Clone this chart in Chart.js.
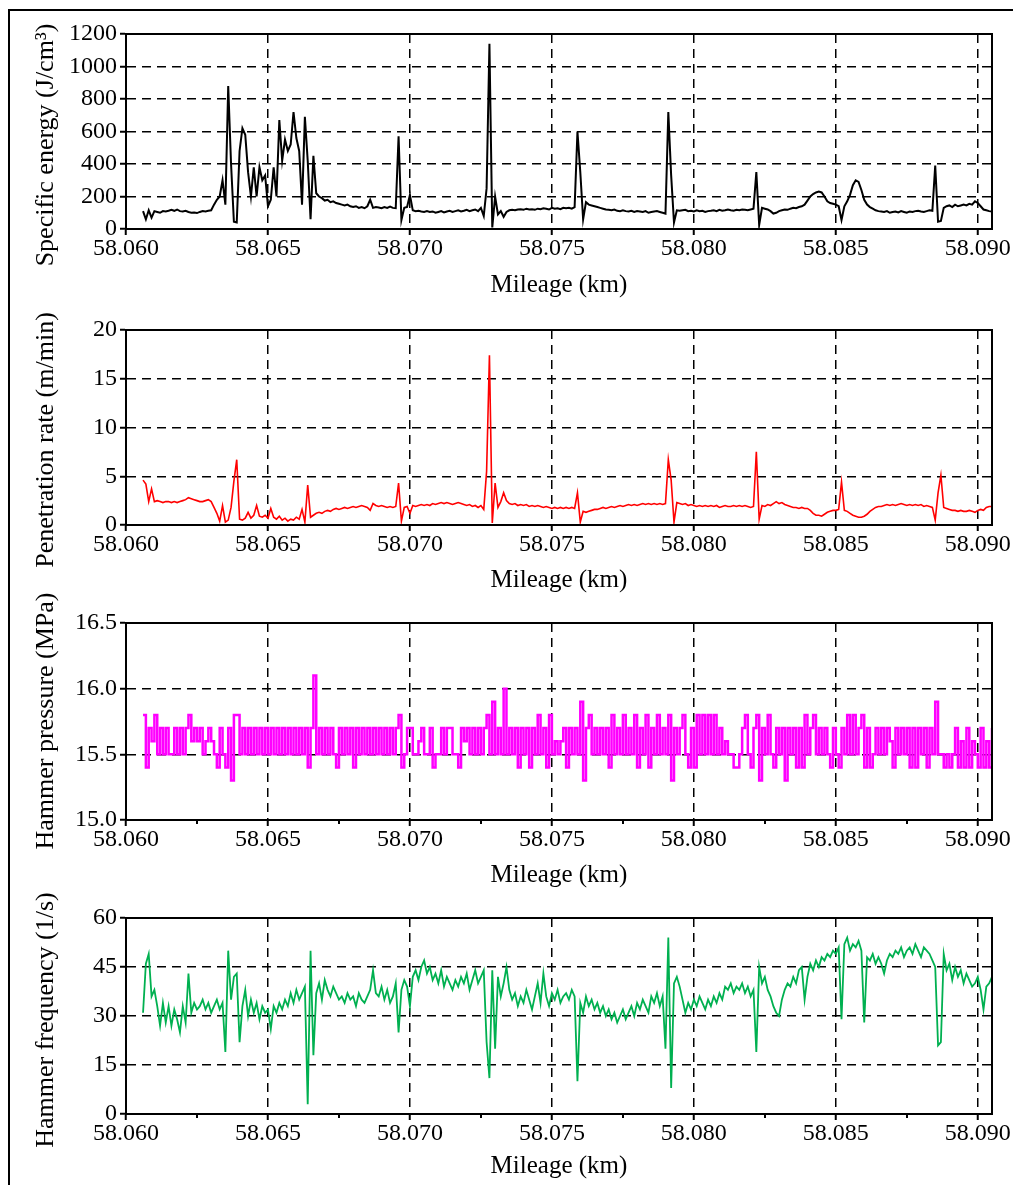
<!DOCTYPE html>
<html>
<head>
<meta charset="utf-8">
<script src="https://cdn.jsdelivr.net/npm/chart.js@4.4.1/dist/chart.umd.min.js"></script>
<style>
  html, body { margin: 0; padding: 0; background: #fff; overflow: hidden; }
  body { width: 1013px; height: 1185px; position: relative; }
  #frame { position: absolute; left: 8px; top: 9px; width: 1200px; height: 1400px; border: 2px solid #000; box-sizing: border-box; }
  canvas { position: absolute; left: 0; }
</style>
</head>
<body>
<div id="frame"></div>
<canvas id="c1"></canvas>
<canvas id="c2"></canvas>
<canvas id="c3"></canvas>
<canvas id="c4"></canvas>
<script>
// sample positions (km), shared by the four records
const mileage = [
  58.0606, 58.0607, 58.0608, 58.0609, 58.0610, 58.0611, 58.0612, 58.0613, 58.0614, 58.0615,
  58.0616, 58.0617, 58.0618, 58.0619, 58.0620, 58.0621, 58.0622, 58.0623, 58.0624, 58.0625,
  58.0626, 58.0627, 58.0628, 58.0629, 58.0630, 58.0631, 58.0632, 58.0633, 58.0634, 58.0635,
  58.0636, 58.0637, 58.0638, 58.0639, 58.0640, 58.0641, 58.0642, 58.0643, 58.0644, 58.0645,
  58.0646, 58.0647, 58.0648, 58.0649, 58.0650, 58.0651, 58.0652, 58.0653, 58.0654, 58.0655,
  58.0656, 58.0657, 58.0658, 58.0659, 58.0660, 58.0661, 58.0662, 58.0663, 58.0664, 58.0665,
  58.0666, 58.0667, 58.0668, 58.0669, 58.0670, 58.0671, 58.0672, 58.0673, 58.0674, 58.0675,
  58.0676, 58.0677, 58.0678, 58.0679, 58.0680, 58.0681, 58.0682, 58.0683, 58.0684, 58.0685,
  58.0686, 58.0687, 58.0688, 58.0689, 58.0690, 58.0691, 58.0692, 58.0693, 58.0694, 58.0695,
  58.0696, 58.0697, 58.0698, 58.0699, 58.0700, 58.0701, 58.0702, 58.0703, 58.0704, 58.0705,
  58.0706, 58.0707, 58.0708, 58.0709, 58.0710, 58.0711, 58.0712, 58.0713, 58.0714, 58.0715,
  58.0716, 58.0717, 58.0718, 58.0719, 58.0720, 58.0721, 58.0722, 58.0723, 58.0724, 58.0725,
  58.0726, 58.0727, 58.0728, 58.0729, 58.0730, 58.0731, 58.0732, 58.0733, 58.0734, 58.0735,
  58.0736, 58.0737, 58.0738, 58.0739, 58.0740, 58.0741, 58.0742, 58.0743, 58.0744, 58.0745,
  58.0746, 58.0747, 58.0748, 58.0749, 58.0750, 58.0751, 58.0752, 58.0753, 58.0754, 58.0755,
  58.0756, 58.0757, 58.0758, 58.0759, 58.0760, 58.0761, 58.0762, 58.0763, 58.0764, 58.0765,
  58.0766, 58.0767, 58.0768, 58.0769, 58.0770, 58.0771, 58.0772, 58.0773, 58.0774, 58.0775,
  58.0776, 58.0777, 58.0778, 58.0779, 58.0780, 58.0781, 58.0782, 58.0783, 58.0784, 58.0785,
  58.0786, 58.0787, 58.0788, 58.0789, 58.0790, 58.0791, 58.0792, 58.0793, 58.0794, 58.0795,
  58.0796, 58.0797, 58.0798, 58.0799, 58.0800, 58.0801, 58.0802, 58.0803, 58.0804, 58.0805,
  58.0806, 58.0807, 58.0808, 58.0809, 58.0810, 58.0811, 58.0812, 58.0813, 58.0814, 58.0815,
  58.0816, 58.0817, 58.0818, 58.0819, 58.0820, 58.0821, 58.0822, 58.0823, 58.0824, 58.0825,
  58.0826, 58.0827, 58.0828, 58.0829, 58.0830, 58.0831, 58.0832, 58.0833, 58.0834, 58.0835,
  58.0836, 58.0837, 58.0838, 58.0839, 58.0840, 58.0841, 58.0842, 58.0843, 58.0844, 58.0845,
  58.0846, 58.0847, 58.0848, 58.0849, 58.0850, 58.0851, 58.0852, 58.0853, 58.0854, 58.0855,
  58.0856, 58.0857, 58.0858, 58.0859, 58.0860, 58.0861, 58.0862, 58.0863, 58.0864, 58.0865,
  58.0866, 58.0867, 58.0868, 58.0869, 58.0870, 58.0871, 58.0872, 58.0873, 58.0874, 58.0875,
  58.0876, 58.0877, 58.0878, 58.0879, 58.0880, 58.0881, 58.0882, 58.0883, 58.0884, 58.0885,
  58.0886, 58.0887, 58.0888, 58.0889, 58.0890, 58.0891, 58.0892, 58.0893, 58.0894, 58.0895,
  58.0896, 58.0897, 58.0898, 58.0899, 58.0900, 58.0901, 58.0902, 58.0903, 58.0904, 58.0905
];

// specific energy (J/cm3)
const energy = [
  110, 60, 115, 70, 110, 105, 100, 110, 108, 112,
  118, 112, 120, 110, 108, 112, 105, 100, 102, 98,
  105, 110, 108, 112, 115, 150, 180, 200, 300, 150,
  880, 400, 45, 40, 480, 620, 580, 350, 200, 380,
  200, 380, 300, 330, 140, 180, 380, 200, 670, 420,
  550, 480, 520, 720, 560, 480, 150, 690, 420, 60,
  450, 220, 200, 190, 175, 180, 165, 170, 160, 155,
  150, 145, 150, 140, 135, 140, 130, 135, 128, 140,
  180, 130, 135, 132, 128, 135, 130, 138, 130, 128,
  570, 55, 130, 135, 210, 115, 110, 112, 108, 105,
  110, 105, 108, 100, 105, 110, 102, 108, 112, 105,
  110, 115, 108, 112, 118, 110, 115, 120, 110, 130,
  80, 250, 1140, 10, 200, 90, 110, 75, 105, 115,
  118, 115, 120, 122, 118, 125, 120, 122, 118, 125,
  122, 128, 125, 120, 130, 125, 128, 122, 130, 128,
  130, 125, 135, 600, 350, 60, 165, 150, 145, 140,
  135, 130, 125, 120, 118, 115, 120, 112, 110, 115,
  110, 108, 112, 105, 110, 108, 105, 110, 100, 105,
  108, 110, 105, 100, 95, 720, 330, 40, 115, 112,
  115, 118, 110, 112, 108, 115, 110, 112, 105, 110,
  112, 115, 110, 118, 112, 115, 120, 115, 112, 118,
  115, 120, 118, 115, 120, 125, 350, 25, 130, 125,
  120, 110, 95, 100, 110, 115, 120, 118, 125, 130,
  128, 135, 140, 150, 175, 200, 215, 225, 230, 225,
  200, 170, 160, 155, 150, 140, 55, 140, 170, 210,
  270, 300, 290, 240, 180, 150, 135, 125, 115, 110,
  108, 105, 110, 100, 105, 108, 102, 110, 105, 100,
  108, 105, 110, 112, 108, 105, 110, 115, 112, 390,
  45, 50, 130, 140, 145, 135, 150, 140, 145, 150,
  145, 155, 150, 170, 160, 140, 120, 115, 110, 108
];

// penetration rate (m/min)
const penetration = [
  4.6, 4.2, 2.4, 3.7, 2.4, 2.5, 2.4, 2.3, 2.4, 2.4,
  2.3, 2.4, 2.3, 2.4, 2.5, 2.6, 2.8, 2.7, 2.6, 2.5,
  2.4, 2.4, 2.5, 2.6, 2.4, 1.8, 1.2, 0.4, 2.0, 0.3,
  0.5, 1.8, 4.5, 6.7, 0.6, 0.5, 0.7, 1.3, 0.7, 1.0,
  2.0, 0.9, 0.8, 1.0, 0.7, 1.7, 0.8, 0.6, 0.9, 0.5,
  0.7, 0.4, 0.6, 0.5, 0.8, 0.6, 1.6, 0.3, 4.1, 0.8,
  1.0, 1.2, 1.3, 1.2, 1.4, 1.5, 1.4, 1.6, 1.7, 1.6,
  1.7, 1.8, 1.7, 1.8, 1.9, 1.8, 1.9, 2.0, 1.9, 1.8,
  1.5, 2.2, 2.0, 1.9, 2.0, 1.9, 1.8, 1.9, 1.8, 1.9,
  4.3, 0.4, 1.8, 1.9, 1.2, 2.0, 1.9, 2.0, 2.1, 2.0,
  2.1, 2.0, 2.2, 2.1, 2.2, 2.3, 2.2, 2.3, 2.2, 2.1,
  2.2, 2.3, 2.2, 2.1, 2.0, 2.1, 1.9, 2.0, 1.8, 2.0,
  1.6, 5.5, 17.4, 0.2, 4.3, 1.8, 2.4, 3.3, 2.5, 2.2,
  2.1, 2.2, 2.0, 2.1, 2.0, 2.1, 1.9, 2.0, 1.9, 2.0,
  1.9, 1.8, 1.9, 1.8, 1.7, 1.8, 1.7, 1.8, 1.7, 1.8,
  1.7, 1.8, 1.7, 3.3, 0.3, 1.4, 1.3, 1.4, 1.5, 1.6,
  1.6, 1.7, 1.8, 1.7, 1.8, 1.9, 1.8, 1.9, 2.0, 1.9,
  2.0, 2.1, 2.0, 2.1, 2.0, 2.1, 2.2, 2.1, 2.2, 2.1,
  2.2, 2.1, 2.2, 2.1, 2.2, 6.7, 4.6, 0.3, 2.3, 2.2,
  2.1, 2.2, 2.0, 2.1, 2.0, 1.9, 2.0, 1.9, 2.0, 1.9,
  2.0, 1.9, 2.0, 1.8, 1.9, 2.0, 1.9, 1.9, 2.0, 1.9,
  2.0, 1.9, 2.0, 1.9, 1.8, 1.9, 7.5, 0.6, 2.0, 1.9,
  2.1, 2.0, 2.2, 2.4, 2.2, 2.3, 2.1, 2.0, 1.9, 1.8,
  1.8, 1.7, 1.8, 1.7, 1.7, 1.5, 1.2, 1.0, 1.0, 0.9,
  1.1, 1.3, 1.4, 1.5, 1.5, 1.6, 4.4, 1.5, 1.4, 1.2,
  1.0, 0.9, 0.8, 0.8, 0.9, 1.1, 1.4, 1.6, 1.8, 1.9,
  1.9, 2.0, 2.1, 2.0, 2.1, 2.0, 2.1, 2.2, 2.1, 2.0,
  2.1, 2.0, 2.1, 2.0, 2.1, 1.9, 2.0, 1.9, 1.8, 0.5,
  3.3, 5.1, 1.8, 1.7, 1.6, 1.5, 1.5, 1.4, 1.5, 1.4,
  1.4, 1.5, 1.4, 1.3, 1.5, 1.6, 1.5, 1.8, 1.9, 1.9
];

// hammer pressure (MPa)
const pressure = [
  15.8, 15.4, 15.7, 15.6, 15.8, 15.5, 15.7, 15.5, 15.7, 15.5,
  15.5, 15.7, 15.5, 15.7, 15.5, 15.7, 15.8, 15.6, 15.7, 15.6,
  15.7, 15.5, 15.6, 15.7, 15.6, 15.5, 15.4, 15.7, 15.5, 15.4,
  15.7, 15.3, 15.8, 15.8, 15.5, 15.7, 15.5, 15.7, 15.5, 15.7,
  15.5, 15.7, 15.5, 15.7, 15.5, 15.7, 15.5, 15.7, 15.5, 15.7,
  15.5, 15.7, 15.5, 15.7, 15.5, 15.7, 15.5, 15.7, 15.4, 15.7,
  16.1, 15.5, 15.7, 15.5, 15.7, 15.5, 15.7, 15.5, 15.4, 15.7,
  15.5, 15.7, 15.5, 15.7, 15.4, 15.7, 15.5, 15.7, 15.5, 15.7,
  15.5, 15.7, 15.5, 15.7, 15.5, 15.7, 15.5, 15.7, 15.5, 15.7,
  15.8, 15.4, 15.5, 15.7, 15.7, 15.5, 15.5, 15.6, 15.7, 15.5,
  15.5, 15.7, 15.4, 15.5, 15.5, 15.7, 15.5, 15.7, 15.7, 15.5,
  15.5, 15.4, 15.7, 15.6, 15.7, 15.5, 15.7, 15.5, 15.7, 15.5,
  15.7, 15.8, 15.5, 15.9, 15.5, 15.7, 15.5, 16.0, 15.5, 15.7,
  15.5, 15.7, 15.4, 15.7, 15.5, 15.7, 15.4, 15.7, 15.5, 15.8,
  15.5, 15.7, 15.4, 15.8, 15.5, 15.6, 15.5, 15.6, 15.7, 15.4,
  15.7, 15.5, 15.7, 15.5, 15.9, 15.3, 15.7, 15.8, 15.5, 15.7,
  15.5, 15.7, 15.5, 15.7, 15.4, 15.8, 15.5, 15.7, 15.5, 15.8,
  15.5, 15.7, 15.5, 15.8, 15.4, 15.7, 15.5, 15.8, 15.4, 15.7,
  15.5, 15.8, 15.5, 15.7, 15.5, 15.8, 15.3, 15.7, 15.5, 15.7,
  15.8, 15.5, 15.4, 15.7, 15.4, 15.8, 15.5, 15.8, 15.5, 15.8,
  15.5, 15.8, 15.5, 15.7, 15.5, 15.6, 15.5, 15.5, 15.4, 15.4,
  15.5, 15.7, 15.8, 15.5, 15.4, 15.7, 15.8, 15.3, 15.7, 15.5,
  15.8, 15.5, 15.4, 15.7, 15.5, 15.7, 15.3, 15.7, 15.5, 15.7,
  15.4, 15.7, 15.4, 15.8, 15.5, 15.7, 15.8, 15.5, 15.7, 15.5,
  15.7, 15.5, 15.4, 15.7, 15.5, 15.4, 15.7, 15.5, 15.8, 15.5,
  15.8, 15.5, 15.7, 15.8, 15.4, 15.7, 15.4, 15.5, 15.7, 15.5,
  15.7, 15.5, 15.7, 15.6, 15.4, 15.7, 15.5, 15.7, 15.5, 15.7,
  15.4, 15.7, 15.4, 15.7, 15.5, 15.7, 15.4, 15.7, 15.5, 15.9,
  15.5, 15.5, 15.4, 15.5, 15.4, 15.5, 15.7, 15.4, 15.6, 15.4,
  15.7, 15.4, 15.6, 15.5, 15.4, 15.7, 15.4, 15.6, 15.4, 15.7
];

// hammer frequency (1/s)
const frequency = [
  31, 46, 49, 36, 38, 33, 27, 34, 28, 33,
  27, 32, 29, 25, 33, 28, 43, 31, 34, 32,
  33, 35, 32, 34, 31, 33, 35, 32, 34, 19,
  50, 35, 42, 43, 22, 33, 38, 30, 35, 31,
  34, 29, 33, 31, 32, 26, 33, 31, 34, 32,
  35, 33, 37, 34, 38, 35, 37, 39, 3, 50,
  18, 37, 40, 35, 41, 38, 36, 39, 37, 35,
  36, 34, 37, 35, 36, 33, 37, 35, 34, 36,
  38, 44, 37, 36, 39, 35, 38, 34, 36, 40,
  25, 38, 41, 39, 33, 42, 44, 41, 45, 47,
  43, 45, 41, 43, 40, 44, 39, 42, 40, 38,
  41, 39, 42, 40, 43, 38, 41, 44, 40, 42,
  44, 22, 11, 44, 20, 42, 36, 40, 45, 38,
  35, 37, 33, 36, 34, 38, 35, 32, 36, 40,
  34, 43, 36, 33, 37, 35, 38, 34, 36, 37,
  35, 38, 36, 10, 34, 31, 36, 33, 35, 32,
  34, 31, 33, 30, 32, 29, 31, 28, 30, 32,
  29, 31, 33, 30, 34, 32, 35, 33, 31, 36,
  34, 37, 33, 36, 20, 54, 8, 40, 42, 39,
  35, 31, 34, 32, 35, 33, 36, 34, 32, 35,
  33, 36, 34, 37, 35, 39, 38, 40, 37, 39,
  38, 40, 37, 39, 36, 38, 19, 45, 40, 42,
  38, 36, 33, 31, 30, 35, 38, 40, 39, 42,
  40, 44, 45, 35, 42, 46, 44, 47, 45, 48,
  47, 49, 48, 50, 49, 51, 29, 52, 54, 50,
  52, 51, 53, 50, 28, 48, 47, 49, 46, 48,
  46, 43, 47, 49, 48, 50, 49, 51, 48, 50,
  51, 49, 52, 50, 48, 51, 50, 49, 47, 45,
  21, 22, 49, 44, 46, 41, 45, 42, 44, 40,
  43, 41, 39, 40, 42, 38, 32, 39, 40, 42
];

const xTicks = [58.060, 58.065, 58.070, 58.075, 58.080, 58.085, 58.090];
const xMinorTicks = [58.0625, 58.0675, 58.0725, 58.0775, 58.0825, 58.0875];
const energyTicks = [0, 200, 400, 600, 800, 1000, 1200];
const rateTicks = [0, 5, 10, 15, 20];
const pressureTicks = [15.0, 15.5, 16.0, 16.5];
const frequencyTicks = [0, 15, 30, 45, 60];

Chart.defaults.font.family = "'Liberation Serif', 'Times New Roman', serif";
Chart.defaults.color = '#000';

const FONT = "'Liberation Serif', 'Times New Roman', serif";
const PAD_TOP = 40;
const XAXIS_H = 72;
const CANVAS_W = 1040;
const AREA_RIGHT = 992;

// rotated y title, placed where the reference has it
const sideTitle = {
  id: 'sideTitle',
  afterDraw(chart, args, opts) {
    const ctx = chart.ctx;
    ctx.save();
    ctx.translate(opts.x, opts.y);
    ctx.rotate(-Math.PI / 2);
    ctx.font = '26px ' + FONT;
    ctx.fillStyle = '#000';
    ctx.textAlign = 'center';
    ctx.textBaseline = 'middle';
    ctx.fillText(opts.text, 0, 0);
    ctx.restore();
  }
};

// box round the plot area + small minor ticks
const plotFrame = {
  id: 'plotFrame',
  afterDraw(chart, args, opts) {
    const ctx = chart.ctx;
    const a = chart.chartArea;
    ctx.save();
    ctx.strokeStyle = '#000';
    ctx.lineWidth = 2;
    ctx.strokeRect(a.left, a.top, a.right - a.left, a.bottom - a.top);
    if (opts.minor) {
      const xs = chart.scales.x;
      ctx.beginPath();
      xMinorTicks.forEach(v => {
        const px = Math.round(xs.getPixelForValue(v));
        ctx.moveTo(px, a.bottom);
        ctx.lineTo(px, a.bottom + 4);
      });
      ctx.stroke();
    }
    ctx.restore();
  }
};

function makePanel(id, cfg) {
  const canvas = document.getElementById(id);
  const h = (cfg.bottom - cfg.top) + PAD_TOP + XAXIS_H;
  const canvasTop = cfg.top - PAD_TOP;
  canvas.width = CANVAS_W;
  canvas.height = h;
  canvas.style.top = canvasTop + 'px';
  canvas.style.width = CANVAS_W + 'px';
  canvas.style.height = h + 'px';

  return new Chart(canvas.getContext('2d'), {
    type: 'line',
    data: {
      datasets: [{
        data: mileage.map((x, i) => ({x: x, y: cfg.values[i]})),
        borderColor: cfg.color,
        borderWidth: cfg.width,
        pointRadius: 0,
        tension: 0,
        stepped: cfg.stepped || false,
        fill: false
      }]
    },
    options: {
      responsive: false,
      animation: false,
      events: [],
      layout: { padding: { top: PAD_TOP, left: 0, right: CANVAS_W - AREA_RIGHT, bottom: 0 } },
      plugins: {
        legend: { display: false },
        tooltip: { enabled: false },
        sideTitle: { text: cfg.title, x: 46, y: cfg.titleY - canvasTop },
        plotFrame: { minor: cfg.minor }
      },
      scales: {
        x: {
          type: 'linear',
          min: 58.060,
          max: 58.0905,
          afterBuildTicks: s => { s.ticks = xTicks.map(v => ({value: v})); },
          afterFit: s => { s.height = XAXIS_H; },
          ticks: {
            autoSkip: false,
            maxRotation: 0,
            padding: 1.5,
            font: { size: 24, lineHeight: 1 },
            color: '#000',
            callback: v => v.toFixed(3)
          },
          grid: { color: '#000', lineWidth: 1.5, tickLength: 6, tickColor: '#000', tickWidth: 2 },
          border: { display: true, color: '#000', width: 2, dash: [9, 6] },
          title: {
            display: true,
            text: 'Mileage (km)',
            color: '#000',
            font: { size: 25, lineHeight: 1.2 },
            padding: { top: 0, bottom: cfg.xTitlePad }
          }
        },
        y: {
          min: cfg.min,
          max: cfg.max,
          afterBuildTicks: s => { s.ticks = cfg.ticks.map(v => ({value: v})); },
          afterFit: s => { s.width = 126; },
          ticks: {
            padding: 3,
            font: { size: 24, lineHeight: 1 },
            color: '#000',
            callback: cfg.fmt
          },
          grid: { color: '#000', lineWidth: 1.5, tickLength: 6, tickColor: '#000', tickWidth: 2 },
          border: { display: true, color: '#000', width: 2, dash: [9, 6] }
        }
      }
    },
    plugins: [sideTitle, plotFrame]
  });
}

makePanel('c1', {
  top: 34, bottom: 229, values: energy, color: '#000000', width: 2,
  min: 0, max: 1200, ticks: energyTicks, fmt: v => String(v),
  title: 'Specific energy (J/cm\u00B3)', titleY: 145, xTitlePad: 1, minor: false
});
makePanel('c2', {
  top: 330, bottom: 525, values: penetration, color: '#ff0000', width: 1.6,
  min: 0, max: 20, ticks: rateTicks, fmt: v => String(v),
  title: 'Penetration rate (m/min)', titleY: 440, xTitlePad: 2, minor: false
});
makePanel('c3', {
  top: 623, bottom: 820, values: pressure, color: '#ff00ff', width: 2.5, stepped: true,
  min: 15.0, max: 16.5, ticks: pressureTicks, fmt: v => v.toFixed(1),
  title: 'Hammer pressure (MPa)', titleY: 721, xTitlePad: 2, minor: true
});
makePanel('c4', {
  top: 918, bottom: 1114, values: frequency, color: '#00b050', width: 1.8,
  min: 0, max: 60, ticks: frequencyTicks, fmt: v => String(v),
  title: 'Hammer frequency (1/s)', titleY: 1020, xTitlePad: 5, minor: true
});
</script>
</body>
</html>
